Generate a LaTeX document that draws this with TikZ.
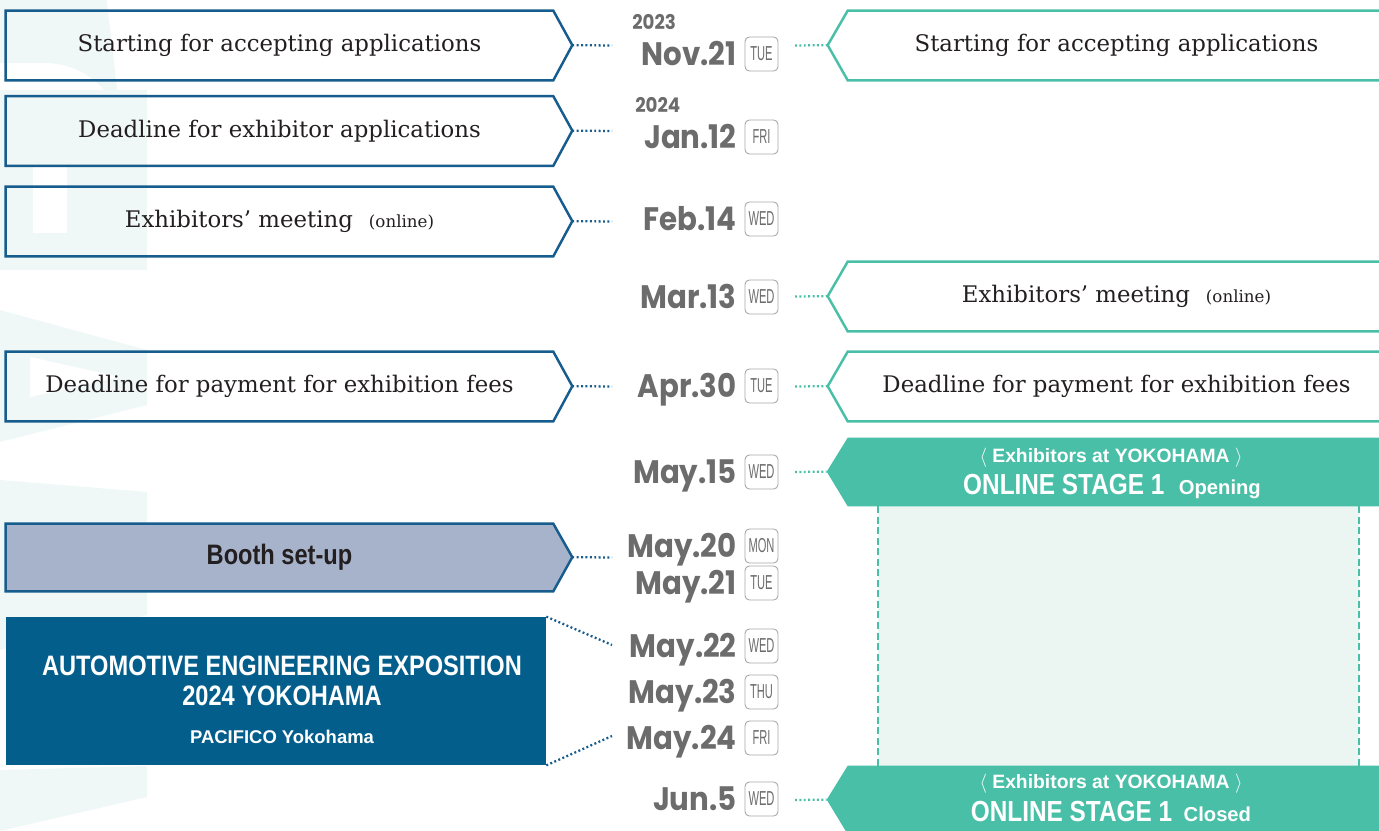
\documentclass[tikz,border=0pt]{standalone}
\usepackage{fontspec}
\setmainfont{DejaVu Serif}
\newfontfamily\datefont[FakeStretch=0.9]{Poppins}
\newfontfamily\condfont[FakeStretch=0.84]{Liberation Sans}
\newfontfamily\dayfont[FakeStretch=0.55]{Liberation Sans}
\newfontfamily\bannerfont{Liberation Sans}
\usetikzlibrary{positioning}

\definecolor{expoblue}{RGB}{22,92,140}
\definecolor{expofill}{RGB}{4,94,140}
\definecolor{boothgray}{RGB}{167,179,203}
\definecolor{stageteal}{RGB}{74,191,167}
\definecolor{stagepale}{RGB}{235,245,242}
\definecolor{dategray}{RGB}{108,108,108}
\definecolor{inkdark}{RGB}{35,31,32}
\definecolor{markfaint}{RGB}{240,247,247}

\begin{document}
\begin{tikzpicture}
[x=0.02cm,y=-0.02cm,
 lbox/.style={shape=rectangle,inner sep=0pt,minimum width=10.94cm,minimum height=1.38cm,
   text=inkdark,font=\fontsize{13}{15}\selectfont},
 rbox/.style={lbox,minimum width=10.74cm},
 lframe/.style={draw=expoblue,line width=1.4pt},
 rframe/.style={draw=stageteal,line width=1.4pt},
 date/.style={anchor=base east,inner sep=0pt,text=dategray,
   font=\datefont\bfseries\fontsize{18.5}{20}\selectfont},
 year/.style={anchor=base west,inner sep=0pt,text=dategray,
   font=\datefont\bfseries\fontsize{11.5}{12}\selectfont},
 wday/.style={shape=rectangle,rounded corners=2.5pt,draw=black!35,line width=0.5pt,inner sep=0pt,
   minimum width=0.66cm,minimum height=0.68cm,text=dategray,font=\dayfont\fontsize{11.5}{12}\selectfont},
 ldots/.style={draw=expoblue,line width=1.3pt,dash pattern=on 1.1pt off 1.4pt},
 rdots/.style={ldots,draw=stageteal},
 stagebar/.style={shape=rectangle,inner sep=0pt,minimum width=10.74cm,minimum height=1.36cm},
 stagetop/.style={anchor=base,inner sep=0pt,text=white,font=\bannerfont\bfseries\fontsize{11}{12}\selectfont},
 stagebig/.style={anchor=base,inner sep=0pt,text=white,font=\condfont\bfseries\fontsize{16.5}{18}\selectfont},
 expotext/.style={anchor=base,inner sep=0pt,text=white,font=\condfont\bfseries\fontsize{16}{18}\selectfont}]

\useasboundingbox (0,0) rectangle (1379,831);

% faint mark behind the left column
\fill[markfaint] (0,90) rectangle (147,270);
\fill[white] (33,165) rectangle (67,233);
\fill[markfaint] (0,-15) ++(105,0) arc (0:-90:105) -- (0,90) -- (0,63) -- (45,63) arc (-90:0:78) -- cycle;
\fill[markfaint] (0,310) -- (147,350) -- (147,405) -- (0,442) -- cycle;
\fill[white] (30,357) -- (120,377) -- (30,397) -- cycle;
\fill[markfaint] (0,480) -- (147,492) -- (147,615) -- (0,650) -- cycle;
\fill[markfaint] (0,770) -- (147,766) -- (147,797) -- (0,831) -- cycle;

% left column
\node (start) [lbox] at (279.5,45.5) {Starting for accepting applications};
\draw [lframe] (start.north west) -- (start.north east) -- ++(19,34.5) coordinate (start tip)
	-- (start.south east) -- (start.south west) -- cycle;
\node (exdl) [lbox] at (279.5,131) {Deadline for exhibitor applications};
\draw [lframe] (exdl.north west) -- (exdl.north east) -- ++(19,34.5) coordinate (exdl tip)
	-- (exdl.south east) -- (exdl.south west) -- cycle;
\node (meet) [lbox] at (279.5,221.5) {Exhibitors’ meeting\hspace{0.7em}{\fontsize{9.5}{12}\selectfont(online)}};
\draw [lframe] (meet.north west) -- (meet.north east) -- ++(19,34.5) coordinate (meet tip)
	-- (meet.south east) -- (meet.south west) -- cycle;
\node (fees) [lbox] at (279.5,386.5) {Deadline for payment for exhibition fees};
\draw [lframe] (fees.north west) -- (fees.north east) -- ++(19,34.5) coordinate (fees tip)
	-- (fees.south east) -- (fees.south west) -- cycle;
\node (booth) [lbox,minimum height=1.34cm] at (279.5,557.5) {};
\draw [lframe,fill=boothgray] (booth.north west) -- (booth.north east) -- ++(19,33.5) coordinate (booth tip)
	-- (booth.south east) -- (booth.south west) -- cycle;
\node (boothtext) at (booth) [font=\condfont\bfseries\fontsize{16}{18}\selectfont,text=inkdark] {Booth set-up};

\node (expo) [shape=rectangle,fill=expofill,inner sep=0pt,minimum width=10.8cm,minimum height=2.96cm]
	at (276,691) {};
\node (expo1) [expotext] at (282,675) {AUTOMOTIVE ENGINEERING EXPOSITION};
\node (expo2) [expotext] at (282,705) {2024 YOKOHAMA};
\node (expo3) [expotext,font=\bannerfont\bfseries\fontsize{10.5}{12}\selectfont] at (282,743) {PACIFICO Yokohama};

% dates
\node (y23) [year] at (632,30) {2023};
\node (y24) [year] at (635,113) {2024};
\foreach \n/\y/\d/\w in {nov/54/Nov.21/TUE, jan/137/Jan.12/FRI, feb/219/Feb.14/WED,
	mar/297/Mar.13/WED, apr/386/Apr.30/TUE, mya/472/May.15/WED, myb/546/May.20/MON,
	myc/583/May.21/TUE, myd/646/May.22/WED, mye/692/May.23/THU, myf/738/May.24/FRI,
	jun/799/Jun.5/WED}
{
	\node (\n) [date] at (737,\y+11.5) {\d};
	\node (\n wd) [wday] at (761.5,\y) {\w};
}

% right column
\node (rstart) [rbox] at (1116.5,45.5) {Starting for accepting applications};
\draw [rframe] (rstart.north east) -- (rstart.north west) -- ++(-20,34.5) coordinate (rstart tip)
	-- (rstart.south west) -- (rstart.south east);
\node (rmeet) [rbox] at (1116.5,296.5) {Exhibitors’ meeting\hspace{0.7em}{\fontsize{9.5}{12}\selectfont(online)}};
\draw [rframe] (rmeet.north east) -- (rmeet.north west) -- ++(-20,34.5) coordinate (rmeet tip)
	-- (rmeet.south west) -- (rmeet.south east);
\node (rfees) [rbox] at (1116.5,386.5) {Deadline for payment for exhibition fees};
\draw [rframe] (rfees.north east) -- (rfees.north west) -- ++(-20,34.5) coordinate (rfees tip)
	-- (rfees.south west) -- (rfees.south east);

\fill [stagepale] (878,506) rectangle (1359,766);
\draw [stageteal,line width=1pt,dash pattern=on 4pt off 2pt] (878,506) -- (878,766) (1359,506) -- (1359,766);

\node (open) [stagebar] at (1116.5,472) {};
\fill [stageteal] (open.north east) -- (open.north west) -- ++(-21,34) coordinate (open tip)
	-- (open.south west) -- (open.south east) -- cycle;
\node (open1) [stagetop] at (1111,462) {$\langle$ Exhibitors at YOKOHAMA $\rangle$};
\node (open2) [stagebig] at (1112,494) {ONLINE STAGE 1\hspace{0.5em}{\bannerfont\fontsize{11.5}{12}\selectfont Opening}};

\node (close) [stagebar] at (1116.5,800) {};
\fill [stageteal] (close.north east) -- (close.north west) -- ++(-21,34) coordinate (close tip)
	-- (close.south west) -- (close.south east) -- cycle;
\node (close1) [stagetop] at (1111,788.5) {$\langle$ Exhibitors at YOKOHAMA $\rangle$};
\node (close2) [stagebig] at (1111,821) {ONLINE STAGE 1\hspace{0.4em}{\bannerfont\fontsize{11.5}{12}\selectfont Closed}};

% dotted links
\foreach \n/\y in {a/45.5,b/131,c/221.5,d/386.5,e/557.5} \coordinate (l\n) at (612,\y);
\foreach \n/\y in {a/45.5,b/296.5,c/386.5,d/472,e/800} \coordinate (r\n) at (795,\y);
\coordinate (expo in) at (612,645);
\coordinate (expo out) at (612,736);

\draw [ldots] (start tip) -- (la);
\draw [ldots] (exdl tip) -- (lb);
\draw [ldots] (meet tip) -- (lc);
\draw [ldots] (fees tip) -- (ld);
\draw [ldots] (booth tip) -- (le);
\draw [ldots] (expo.north east) -- (expo in);
\draw [ldots] (expo.south east) -- (expo out);

\draw [rdots] (ra) -- (rstart tip);
\draw [rdots] (rb) -- (rmeet tip);
\draw [rdots] (rc) -- (rfees tip);
\draw [rdots] (rd) -- (open tip);
\draw [rdots] (re) -- (close tip);
\end{tikzpicture}
\end{document}
